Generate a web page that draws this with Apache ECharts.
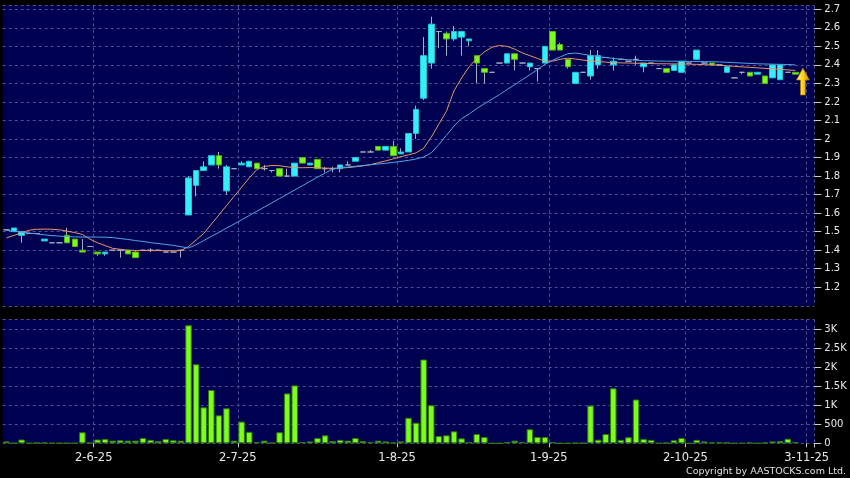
<!DOCTYPE html>
<html><head><meta charset="utf-8">
<script src="https://cdn.jsdelivr.net/npm/echarts@6/dist/echarts.min.js"></script>
<style>html,body{margin:0;padding:0;background:#000;}#c{width:850px;height:478px;}</style>
</head><body><div id="c"></div>
<script>
// ---- data (one entry per trading day) ----
const openP  = [1.51,1.50,1.48,1.49,1.49,1.45,1.44,1.44,1.48,1.46,1.40,1.42,1.39,1.38,1.40,1.40,1.40,1.39,1.40,1.40,1.40,1.39,1.39,1.40,
  1.59,1.75,1.83,1.86,1.91,1.72,1.84,1.86,1.85,1.87,1.84,1.83,1.84,1.80,1.80,1.90,1.86,1.89,1.84,1.84,1.84,1.86,1.88,1.93,1.93,1.96,1.94,1.96,1.92,1.93,
  2.03,2.22,2.41,2.58,2.57,2.54,2.55,2.53,2.45,2.38,2.36,2.41,2.41,2.46,2.41,2.39,2.38,2.41,2.58,2.51,2.43,2.30,2.36,2.34,2.40,2.44,2.40,2.43,2.42,2.43,
  2.39,2.41,2.38,2.38,2.37,2.36,2.41,2.43,2.41,2.41,2.40,2.36,2.33,2.36,2.36,2.35,2.34,2.33,2.32,2.36,2.36];
const closeP = [1.51,1.52,1.50,1.49,1.49,1.46,1.44,1.44,1.44,1.42,1.39,1.42,1.38,1.39,1.40,1.40,1.38,1.36,1.40,1.40,1.40,1.39,1.39,1.40,
  1.79,1.83,1.85,1.91,1.86,1.85,1.84,1.87,1.88,1.84,1.84,1.83,1.80,1.80,1.87,1.87,1.87,1.84,1.84,1.84,1.86,1.86,1.90,1.93,1.93,1.94,1.96,1.91,1.93,2.03,
  2.16,2.45,2.62,2.58,2.54,2.58,2.58,2.54,2.41,2.36,2.36,2.41,2.46,2.43,2.41,2.41,2.38,2.50,2.48,2.48,2.39,2.36,2.36,2.45,2.45,2.44,2.42,2.43,2.42,2.43,
  2.41,2.41,2.38,2.36,2.40,2.42,2.41,2.48,2.41,2.40,2.40,2.39,2.33,2.36,2.34,2.36,2.30,2.40,2.40,2.36,2.35];
const lowP   = [1.51,1.50,1.44,1.49,1.49,1.45,1.44,1.44,1.44,1.42,1.39,1.42,1.37,1.37,1.40,1.36,1.38,1.36,1.40,1.39,1.40,1.39,1.39,1.36,
  1.59,1.69,1.83,1.86,1.84,1.70,1.84,1.86,1.85,1.84,1.83,1.82,1.80,1.80,1.80,1.87,1.86,1.84,1.82,1.82,1.82,1.86,1.88,1.93,1.93,1.94,1.94,1.91,1.92,1.93,
  2.00,2.21,2.38,2.49,2.45,2.53,2.45,2.50,2.30,2.30,2.36,2.41,2.41,2.37,2.41,2.37,2.31,2.41,2.48,2.48,2.38,2.30,2.36,2.32,2.38,2.44,2.37,2.43,2.42,2.40,
  2.36,2.41,2.38,2.36,2.37,2.36,2.41,2.43,2.41,2.40,2.40,2.36,2.33,2.35,2.34,2.35,2.30,2.33,2.32,2.36,2.35];
const highP  = [1.51,1.52,1.50,1.49,1.49,1.46,1.44,1.44,1.52,1.46,1.46,1.42,1.39,1.39,1.40,1.40,1.40,1.40,1.40,1.41,1.40,1.39,1.39,1.40,
  1.80,1.83,1.88,1.91,1.93,1.86,1.84,1.88,1.88,1.87,1.86,1.83,1.84,1.84,1.87,1.90,1.87,1.89,1.85,1.85,1.86,1.88,1.90,1.93,1.94,1.96,1.96,1.99,1.95,2.03,
  2.18,2.55,2.66,2.58,2.58,2.61,2.58,2.54,2.45,2.38,2.36,2.41,2.46,2.46,2.41,2.41,2.38,2.50,2.58,2.52,2.43,2.36,2.36,2.48,2.48,2.44,2.44,2.43,2.42,2.45,
  2.41,2.41,2.38,2.38,2.40,2.42,2.41,2.48,2.41,2.41,2.40,2.39,2.33,2.36,2.36,2.36,2.34,2.40,2.40,2.36,2.36];
const volume = [50,10,100,5,20,20,5,5,5,5,290,20,100,115,70,80,70,70,140,90,60,115,80,70,
  3100,2075,945,1400,735,920,70,570,300,35,70,15,290,1310,1520,35,50,140,210,60,90,70,140,60,35,70,50,15,50,670,
  540,2200,1000,190,210,315,130,35,245,165,0,0,35,70,35,370,165,165,35,0,0,10,10,990,95,245,1445,90,160,1150,
  115,90,0,15,80,140,0,90,50,20,20,20,0,0,20,0,20,50,60,120,35];
const maShort = [1.466,1.48,1.495,1.508,1.513,1.514,1.513,1.51,1.503,1.495,1.485,1.46,1.44,1.425,1.41,1.405,1.40,1.399,1.398,1.398,1.398,1.397,1.397,1.398,
  1.42,1.455,1.49,1.54,1.59,1.64,1.69,1.74,1.79,1.835,1.852,1.857,1.856,1.85,1.845,1.845,1.846,1.845,1.843,1.842,1.843,1.846,1.85,1.855,1.862,1.872,1.882,1.893,1.905,1.915,
  1.925,1.95,2.01,2.08,2.15,2.26,2.33,2.39,2.436,2.47,2.495,2.505,2.50,2.485,2.465,2.45,2.435,2.42,2.42,2.43,2.436,2.432,2.426,2.422,2.418,2.415,2.412,2.411,2.41,2.409,
  2.408,2.407,2.406,2.406,2.405,2.405,2.404,2.403,2.401,2.40,2.398,2.395,2.392,2.389,2.387,2.384,2.381,2.379,2.376,2.373,2.37];
const maLong = [1.507,1.503,1.498,1.493,1.488,1.483,1.479,1.476,1.473,1.472,1.471,1.471,1.471,1.47,1.468,1.463,1.458,1.452,1.447,1.441,1.436,1.431,1.426,1.419,
  1.412,1.43,1.452,1.474,1.496,1.519,1.541,1.564,1.587,1.61,1.633,1.656,1.679,1.702,1.725,1.748,1.771,1.794,1.816,1.838,1.845,1.849,1.853,1.857,1.861,1.865,1.869,1.874,1.879,1.885,
  1.892,1.903,1.925,1.97,2.02,2.07,2.11,2.135,2.165,2.19,2.215,2.24,2.267,2.293,2.32,2.347,2.375,2.403,2.425,2.443,2.46,2.464,2.458,2.451,2.445,2.44,2.435,2.431,2.428,2.425,
  2.423,2.422,2.421,2.42,2.42,2.419,2.419,2.418,2.418,2.417,2.416,2.414,2.412,2.41,2.408,2.406,2.405,2.404,2.403,2.402,2.40];
const tickLabels = ['2-6-25','2-7-25','1-8-25','1-9-25','2-10-25','3-11-25'];
const tickIndex  = [12,31,52,72,90,106];
const slotCount  = 107;           // trading-day slots on the axis (last two empty)
const lastPrice  = 2.31;          // level of the current-price arrow
const copyright  = 'Copyright by AASTOCKS.com Ltd.';

// ---- build library structures ----
const categories = Array.from({length: slotCount}, (_, i) => {
  const k = tickIndex.indexOf(i);
  return k >= 0 ? tickLabels[k] : 'd' + i;
});
const candles = openP.map((o, i) => [o, closeP[i], lowP[i], highP[i]]);
// bodies only (no shadow): low/high limited to the body
const bodies = openP.map((o, i) => [o, closeP[i], Math.min(o, closeP[i]), Math.max(o, closeP[i])]);
const isTick = (i) => tickIndex.indexOf(i) >= 0;

const FONT = 'DejaVu Sans';
const gridLine = {lineStyle: {color: '#4e4e98', type: [3, 3], width: 1}};
const WICK = '#a4b0c0';

const chart = echarts.init(document.getElementById('c'), null, {renderer: 'canvas'});
chart.setOption({
  animation: false,
  backgroundColor: '#000',
  title: {text: copyright, right: 4, bottom: 1, padding: 0,
    textStyle: {color: '#e0e0e0', fontSize: 9.5, fontWeight: 'normal', fontFamily: FONT}},
  grid: [
    {left: 2.7, width: 811.6, top: 5.6, height: 300.2, show: true, backgroundColor: '#000050', borderWidth: 0},
    {left: 2.7, width: 811.6, top: 319.5, height: 123.8, show: true, backgroundColor: '#000050', borderWidth: 0}
  ],
  xAxis: [
    {type: 'category', gridIndex: 0, data: categories, boundaryGap: true,
     axisLine: {show: false}, axisTick: {show: false}, axisLabel: {show: false},
     splitLine: Object.assign({show: true, interval: isTick}, gridLine)},
    {type: 'category', gridIndex: 1, data: categories, boundaryGap: true,
     axisLine: {show: false},
     axisTick: {show: true, interval: isTick, length: 4, lineStyle: {color: '#cccccc'}},
     axisLabel: {show: true, interval: isTick, color: '#e8e8e8', fontFamily: FONT, fontSize: 11.5, margin: 9,
       padding: [0, 7.6, 0, 0], formatter: (v) => v},
     splitLine: Object.assign({show: true, interval: isTick}, gridLine)}
  ],
  yAxis: [
    {type: 'value', gridIndex: 0, position: 'right', min: 1.1, max: 2.72, interval: 0.1,
     axisLine: {show: false},
     axisTick: {show: true, length: 7, lineStyle: {color: '#cccccc'}},
     axisLabel: {color: '#e8e8e8', fontFamily: FONT, fontSize: 10, margin: 10,
       showMinLabel: false, showMaxLabel: false,
       formatter: (v) => String(Math.round(v * 10) / 10)},
     splitLine: gridLine},
    {type: 'value', gridIndex: 1, position: 'right', min: 0, max: 3250, interval: 500,
     axisLine: {show: false},
     axisTick: {show: true, length: 7, lineStyle: {color: '#cccccc'}},
     axisLabel: {color: '#e8e8e8', fontFamily: FONT, fontSize: 10, margin: 10, showMaxLabel: false,
       formatter: (v) => v >= 1000 ? (v / 1000) + 'K' : String(v)},
     splitLine: gridLine}
  ],
  series: [
    // shadows (high-low)
    {type: 'candlestick', xAxisIndex: 0, yAxisIndex: 0, data: candles, barWidth: 0.5, z: 1,
     itemStyle: {color: WICK, color0: WICK, borderColor: WICK, borderColor0: WICK, borderColorDoji: WICK, borderWidth: 1}},
    // bodies
    {type: 'candlestick', xAxisIndex: 0, yAxisIndex: 0, data: bodies, barWidth: 6, z: 2,
     itemStyle: {color: '#33f0f8', color0: '#7cfc1c', borderColor: '#1cc4d4', borderColor0: '#52b80e',
       borderColorDoji: WICK, borderWidth: 1},
     markPoint: {
       symbol: 'path://M6.5,0 L13,12 L9,12 L9,27 L4,27 L4,12 L0,12 Z',
       symbolSize: [13, 27], silent: true, label: {show: false},
       itemStyle: {borderColor: '#a06a00', borderWidth: 0.6,
         color: {type: 'linear', x: 0, y: 0, x2: 1, y2: 0,
         colorStops: [{offset: 0, color: '#fff39a'}, {offset: 0.5, color: '#ffd21a'}, {offset: 1, color: '#c88a00'}]}},
       data: [{coord: [105, lastPrice]}]
     }},
    {type: 'line', xAxisIndex: 0, yAxisIndex: 0, data: maShort, showSymbol: false, z: 3,
     lineStyle: {color: '#e8956a', width: 1}},
    {type: 'line', xAxisIndex: 0, yAxisIndex: 0, data: maLong, showSymbol: false, z: 3,
     lineStyle: {color: '#4aa6e8', width: 1}},
    {type: 'bar', xAxisIndex: 1, yAxisIndex: 1, data: volume, barWidth: '86%',
     itemStyle: {color: '#7dfc1e', borderColor: '#2f7a06', borderWidth: 1}}
  ]
});
</script></body></html>
